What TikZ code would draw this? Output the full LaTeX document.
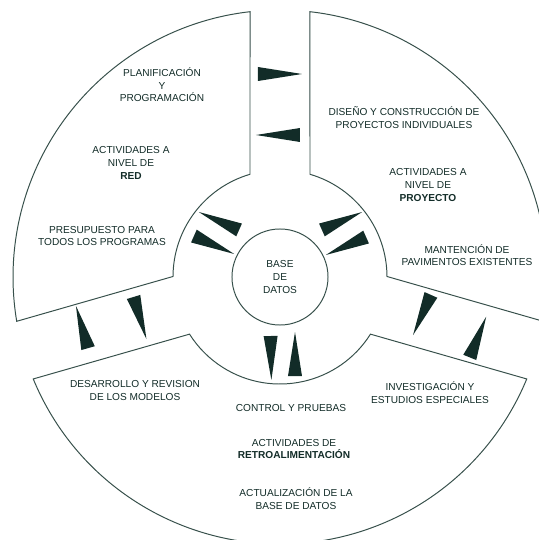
\documentclass[tikz,border=0pt]{standalone}
\usepackage{fontspec}
\setmainfont{Liberation Sans}
\usetikzlibrary{calc}
\definecolor{tinta}{RGB}{18,44,40}
\definecolor{linea}{RGB}{55,80,75}

\begin{document}
\begin{tikzpicture}[x=0.025cm, y=0.025cm,
			sector/.style={draw=linea, line width=0.7pt, fill=white},
			texto/.style={align=center, text=tinta, font=\fontsize{7.2}{9}\selectfont, inner sep=0pt},
			]
			\useasboundingbox (-280,-263) rectangle (259,277);
			\clip (-280,-263) rectangle (259,277);
			
			% Sectores
			\foreach \a/\b in {90/196, 196/344, -16/90}
			\draw[sector] (\a+6.45:267) arc[start angle=\a+6.45, end angle=\b-6.45, radius=267]
			-- (\b-16.28:107) arc[start angle=\b-16.28, end angle=\a+16.28, radius=107] -- cycle;
			
			% Base de datos
			\node[texto, circle, draw=linea, line width=0.7pt, minimum size=2.4cm] (Base) at (0,0) {BASE\\DE\\DATOS};
			
			% Flechas (cunas)
			\foreach \x/\y/\ang in {0/203/0, -2/142/180, -198/-50/106, -140/-41/287, 142/-38/246, 198/-60/68,
				-61/56/156, -66/32/336, 62/56/24, 66/31/204, -9/-81/271, 15/-77/90}
			\fill[tinta] ($(\x,\y)+(\ang:22)$) -- ($(\x,\y)+(\ang:-22)+(\ang+90:7)$) -- ($(\x,\y)+(\ang:-22)+(\ang-90:7)$) -- cycle;
			
			% Textos
			\node[texto] (Planificacion) at (-118,192) {PLANIFICACIÓN\\Y\\PROGRAMACIÓN};
			\node[texto] (Red) at (-149,114) {ACTIVIDADES A\\NIVEL DE\\\textbf{RED}};
			\node[texto] (Presupuesto) at (-178,41) {PRESUPUESTO PARA\\TODOS LOS PROGRAMAS};
			\node[texto] (Diseno) at (124,159.5) {DISEÑO Y CONSTRUCCIÓN DE\\PROYECTOS INDIVIDUALES};
			\node[texto] (Proyecto) at (148,92) {ACTIVIDADES A\\NIVEL DE\\\textbf{PROYECTO}};
			\node[texto] (Mantencion) at (187,22) {MANTENCIÓN DE\\PAVIMENTOS EXISTENTES};
			\node[texto] (Desarrollo) at (-145,-113.5) {DESARROLLO Y REVISION\\DE LOS MODELOS};
			\node[texto] (Investigacion) at (150,-115.5) {INVESTIGACIÓN Y\\ESTUDIOS ESPECIALES};
			\node[texto] (Control) at (11,-131) {CONTROL Y PRUEBAS};
			\node[texto] (Retro) at (14,-172) {ACTIVIDADES DE\\\textbf{RETROALIMENTACIÓN}};
			\node[texto] (Actualizacion) at (16,-221.5) {ACTUALIZACIÓN DE LA\\BASE DE DATOS};
			
		\end{tikzpicture}
\end{document}
